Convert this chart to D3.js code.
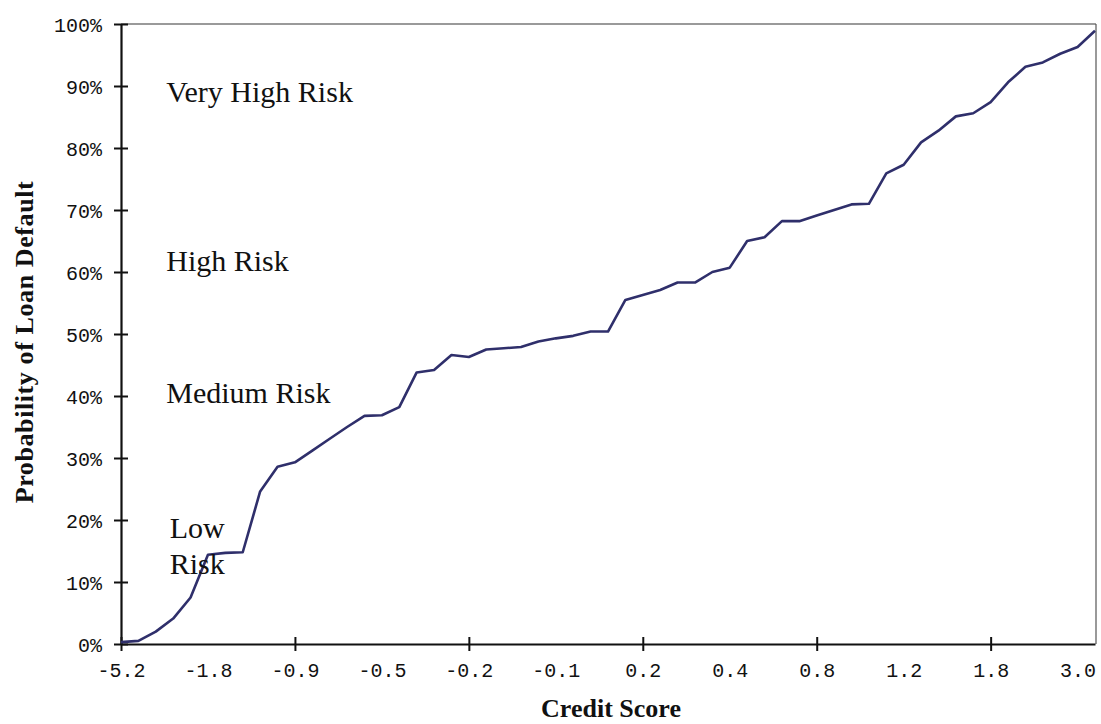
<!DOCTYPE html>
<html lang="en">
<head>
    <meta charset="UTF-8">
    <title>Probability of Loan Default by Credit Score</title>
    <script src="https://d3js.org/d3.v7.min.js"></script>
    <style>
        body { margin: 0; background: #fff; }
        .tick-label { font-family: "Liberation Mono", "Courier New", monospace; font-size: 20px; fill: #111; }
        .band-label { font-family: "Liberation Serif", "Times New Roman", serif; font-size: 30px; fill: #111; }
        .axis-title { font-family: "Liberation Serif", "Times New Roman", serif; font-size: 26px; font-weight: bold; fill: #111; }
    </style>
</head>
<body>
    <svg width="1101" height="724"></svg>
    <script>
        // x-axis labels, one every 5 points
        const scoreLabels = ["-5.2", "-1.8", "-0.9", "-0.5", "-0.2", "-0.1", "0.2", "0.4", "0.8", "1.2", "1.8", "3.0"];

        // probability of default (%) for each point
        const defaultPct = [
            0.3, 0.5, 2.0, 4.1, 7.5, 14.4, 14.7, 14.8, 24.6, 28.6,
            29.3, 31.2, 33.1, 35.0, 36.8, 36.9, 38.2, 43.8, 44.2, 46.6,
            46.3, 47.5, 47.7, 47.9, 48.8, 49.3, 49.7, 50.4, 50.4, 55.5,
            56.3, 57.1, 58.3, 58.3, 60.0, 60.7, 65.0, 65.6, 68.2, 68.2,
            69.1, 70.0, 70.9, 71.0, 75.9, 77.3, 80.9, 82.8, 85.1, 85.6,
            87.4, 90.6, 93.1, 93.8, 95.2, 96.3, 98.9
        ];

        const pctTicks = [0, 10, 20, 30, 40, 50, 60, 70, 80, 90, 100];

        // risk band captions (x in point index, y in %)
        const bandText = ["Very High Risk", "High Risk", "Medium Risk", "Low", "Risk"];
        const bandX = [2.6, 2.6, 2.6, 2.8, 2.8];
        const bandY = [87.4, 60.2, 38.9, 17.1, 11.3];

        const svg = d3.select("svg");
        const plotL = 121, plotR = 1095, plotT = 24, plotB = 644;

        const x = d3.scaleLinear().domain([0, defaultPct.length - 1]).range([plotL, plotR]);
        const y = d3.scaleLinear().domain([0, 100]).range([plotB, plotT]);

        // top and right frame
        svg.append("line")
            .attr("x1", plotL).attr("x2", plotR + 1)
            .attr("y1", plotT).attr("y2", plotT)
            .attr("stroke", "#9a9a9a").attr("stroke-width", 2);
        svg.append("line")
            .attr("x1", plotR + 1).attr("x2", plotR + 1)
            .attr("y1", plotT).attr("y2", plotB)
            .attr("stroke", "#555").attr("stroke-width", 1.2);

        // y axis
        const yAxis = svg.append("g")
            .attr("transform", `translate(${plotL},0)`)
            .call(d3.axisLeft(y).tickValues(pctTicks).tickFormat(d => d + "%").tickSizeOuter(0));
        yAxis.select(".domain").attr("stroke", "#111").attr("stroke-width", 2.2);
        yAxis.selectAll(".tick line").attr("x1", -7).attr("x2", 7).attr("stroke", "#111").attr("stroke-width", 2);
        yAxis.selectAll(".tick text")
            .attr("class", "tick-label")
            .attr("x", -19).attr("dy", "0.36em");
        yAxis.attr("font-family", null).attr("font-size", null);

        // x axis: tick marks every 10 points, labels every 5
        const xAxis = svg.append("g")
            .attr("transform", `translate(0,${plotB})`)
            .call(d3.axisBottom(x).tickValues(d3.range(0, defaultPct.length, 5))
                .tickFormat((d, i) => scoreLabels[i]).tickSizeOuter(0));
        xAxis.select(".domain").attr("stroke", "#111").attr("stroke-width", 2.2);
        xAxis.selectAll(".tick line")
            .attr("y1", -7).attr("y2", 7).attr("stroke", "#111").attr("stroke-width", 2)
            .attr("display", d => d % 10 === 0 ? null : "none");
        xAxis.selectAll(".tick text")
            .attr("class", "tick-label")
            .attr("y", 33).attr("dy", 0);
        xAxis.attr("font-family", null).attr("font-size", null);

        // curve
        const line = d3.line()
            .x((d, i) => x(i))
            .y(d => y(d));
        svg.append("path")
            .datum(defaultPct)
            .attr("fill", "none")
            .attr("stroke", "#2f2f6b")
            .attr("stroke-width", 2.6)
            .attr("stroke-linejoin", "round")
            .attr("d", line);

        // risk band captions
        svg.append("g")
            .selectAll("text")
            .data(bandText)
            .enter().append("text")
            .attr("class", "band-label")
            .attr("x", (d, i) => x(bandX[i]))
            .attr("y", (d, i) => y(bandY[i]))
            .text(d => d);

        // axis titles
        svg.append("text")
            .attr("class", "axis-title")
            .attr("text-anchor", "middle")
            .attr("x", (plotL + plotR) / 2 + 3)
            .attr("y", 717)
            .text("Credit Score");

        svg.append("text")
            .attr("class", "axis-title")
            .attr("text-anchor", "middle")
            .attr("letter-spacing", "0.6px")
            .attr("transform", "translate(33,342) rotate(-90)")
            .text("Probability of Loan Default");
    </script>
</body>
</html>
